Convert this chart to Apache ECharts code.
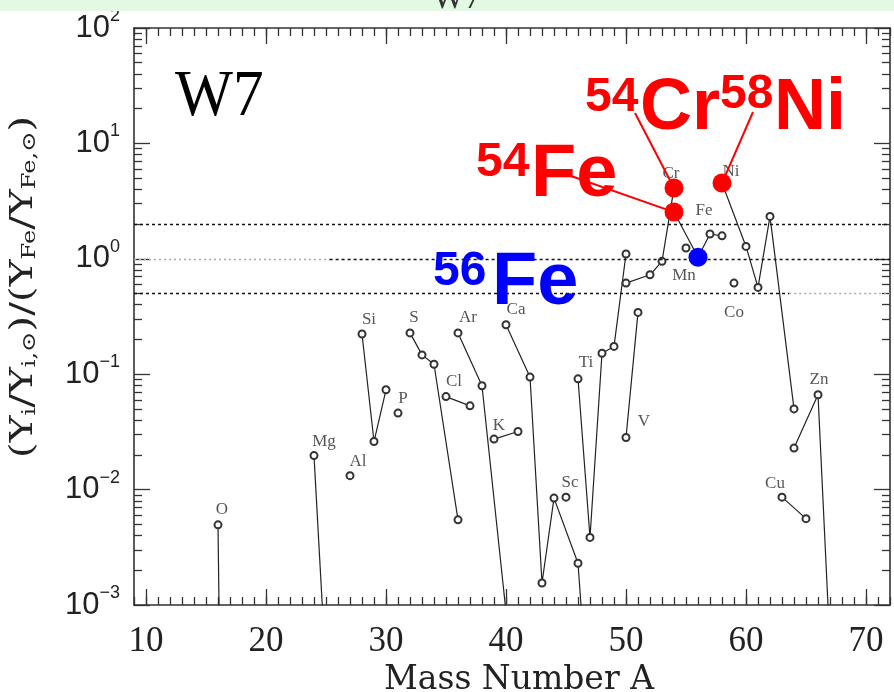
<!DOCTYPE html>
<html><head><meta charset="utf-8">
<script src="https://cdn.jsdelivr.net/npm/echarts@6/dist/echarts.min.js"></script>
<style>html,body{margin:0;padding:0;background:#fff}#c{width:894px;height:692px}</style>
</head><body><div id="c"></div>
<script>
// ---------------- data ----------------
const xMajorTicks = [10, 20, 30, 40, 50, 60, 70];
const xMinorTicks = [9,10,11,12,13,14,15,16,17,18,19,20,21,22,23,24,25,26,27,28,29,30,31,32,33,34,35,36,37,38,39,40,41,42,43,44,45,46,47,48,49,50,51,52,53,54,55,56,57,58,59,60,61,62,63,64,65,66,67,68,69,70,71,72];
const yMinorTicks = [0.002,0.003,0.004,0.005,0.006,0.007,0.008,0.009,
  0.02,0.03,0.04,0.05,0.06,0.07,0.08,0.09,
  0.2,0.3,0.4,0.5,0.6,0.7,0.8,0.9,
  2,3,4,5,6,7,8,9,
  20,30,40,50,60,70,80,90];
const refLevels = [2, 1, 0.5];

// [mass number A, (Y_i/Y_i,sun)/(Y_Fe/Y_Fe,sun)]
const isoO  = [[16, 4.95e-3], [17, 3e-11]];
const isoMg = [[24, 0.0197], [25, 2.6e-4]];
const isoAl = [[27, 0.0132]];
const isoSi = [[28, 0.223], [29, 0.0261], [30, 0.0733]];
const isoP  = [[31, 0.046]];
const isoS  = [[32, 0.228], [33, 0.147], [34, 0.122], [36, 5.47e-3]];
const isoCl = [[35, 0.064], [37, 0.0532]];
const isoAr = [[36, 0.228], [38, 0.0794], [40, 8.7e-4]];
const isoK  = [[39, 0.0274], [41, 0.0319]];
const isoCa = [[40, 0.268], [42, 0.0944], [43, 1.55e-3], [44, 8.44e-3], [46, 2.3e-3], [48, 2.9e-6]];
const isoSc = [[45, 8.6e-3]];
const isoTi = [[46, 0.0912], [47, 3.85e-3], [48, 0.152], [49, 0.174], [50, 1.1]];
const isoV  = [[50, 0.0283], [51, 0.343]];
const isoCr = [[50, 0.616], [52, 0.727], [53, 0.95], [54, 4.1]];
const isoMn = [[55, 1.24]];
const isoFe = [[54, 2.54], [56, 1.03], [57, 1.64], [58, 1.58]];
const isoCo = [[59, 0.616]];
const isoNi = [[58, 4.53], [60, 1.28], [61, 0.565], [62, 2.33], [64, 0.05]];
const isoCu = [[63, 8.6e-3], [65, 5.6e-3]];
const isoZn = [[64, 0.0229], [66, 0.0664], [67, 4.3e-4]];

// element label -> isotope (mass number) it sits next to
const labelRefs = [['O',16],['Mg',24],['Al',27],['Si',28],['P',31],['S',32],['Cl',35],['Ar',36],['K',39],['Ca',40],
  ['Sc',45],['Ti',46],['V',50],['Cr',54],['Mn',55],['Fe',54],['Co',59],['Ni',58],['Cu',63],['Zn',66]];

// highlighted isotopes: [element, mass number, superscript, symbol]
const redIsotopes = [['Cr', 54, '54', 'Cr'], ['Fe', 54, '54', 'Fe'], ['Ni', 58, '58', 'Ni']];
const blueIsotopes = [['Fe', 56, '56', 'Fe']];

// ---------------- layout / style ----------------
const elements = {O:isoO, Mg:isoMg, Al:isoAl, Si:isoSi, P:isoP, S:isoS, Cl:isoCl, Ar:isoAr, K:isoK, Ca:isoCa,
  Sc:isoSc, Ti:isoTi, V:isoV, Cr:isoCr, Mn:isoMn, Fe:isoFe, Co:isoCo, Ni:isoNi, Cu:isoCu, Zn:isoZn};
const labelOffset = {O:[4,-15], Mg:[10,-14], Al:[8,-14], Si:[7,-14], P:[5,-15], S:[4,-15], Cl:[8,-15], Ar:[10,-15],
  K:[5,-14], Ca:[10,-15], Sc:[4,-15], Ti:[8,-16], V:[18,-16], Cr:[-3,-15], Mn:[-2,28], Fe:[30,-2], Co:[0,29],
  Ni:[9,-12], Cu:[-7,-14], Zn:[1,-15]};
function find(el, A) { return elements[el].find(p => p[0] === A); }

const GRID = {left:134, top:28, right:4, bottom:87, outerBoundsMode:'none', containLabel:false};
const axisCol = '#333';

function xAx(pos, major) {
  return {
    type:'value', min:9, max:72, position:pos,
    axisLine:{show:major, onZero:false, lineStyle:{color:axisCol, width:1.6}},
    axisTick:{show:true, inside:true, length: major?16:8, customValues: major?xMajorTicks:xMinorTicks,
      lineStyle:{color:axisCol, width:1.3}},
    axisLabel:{show: major && pos==='bottom', customValues:xMajorTicks, fontFamily:'Liberation Serif', fontSize:35, color:'#222', margin:19},
    splitLine:{show:false}
  };
}
function yAx(pos, major) {
  const ax = {
    type:'log', logBase:10, min:0.001, max:100, position:pos,
    axisLine:{show:major, onZero:false, lineStyle:{color:axisCol, width:1.6}},
    axisTick:{show:true, inside:true, length: major?16:8, lineStyle:{color:axisCol, width:1.3}},
    axisLabel:{show: major && pos==='left', margin:14,
      formatter: v => { const e = Math.round(Math.log10(v)); return '{b|10}{s|' + (e < 0 ? '\u2212' + (-e) : e) + '}'; },
      rich:{ b:{fontFamily:'Liberation Sans', fontSize:31, color:'#222', lineHeight:42},
             s:{fontFamily:'Liberation Sans', fontSize:18, color:'#222', lineHeight:18, verticalAlign:'top'} } },
    splitLine:{show:false}
  };
  if (!major) ax.axisTick.customValues = yMinorTicks;
  return ax;
}

const series = [];
Object.keys(elements).forEach(k => {
  series.push({
    type:'line', name:k, data:elements[k], symbol:'emptyCircle', symbolSize:7, showAllSymbol:true,
    lineStyle:{color:'#222', width:1.2}, itemStyle:{color:'#333', borderWidth:1.3}, z:3, clip:true, silent:true
  });
});
series.push({
  type:'scatter', name:'labels', symbolSize:0, silent:true, z:4,
  data: labelRefs.map(r => ({value: find(r[0], r[1]), name:r[0],
    label:{show:true, position:'inside', offset:labelOffset[r[0]], formatter:r[0],
      fontFamily:'Liberation Serif', fontSize:17, color:'#2a2a2a'}}))
});
const grayDash = {type:[2,3], color:'#aaa', width:1.3};
series.push({
  type:'line', name:'ref', data:[], silent:true,
  markLine:{silent:true, symbol:['none','none'], label:{show:false},
    lineStyle:{type:[3,3], color:'#111', width:1.3},
    data: [
      [{coord:[9, refLevels[0]]}, {coord:[72, refLevels[0]]}],
      [{coord:[9, refLevels[1]], lineStyle:grayDash}, {coord:[25.3, refLevels[1]]}],
      [{coord:[25.3, refLevels[1]]}, {coord:[72, refLevels[1]]}],
      [{coord:[9, refLevels[2]]}, {coord:[63.6, refLevels[2]]}],
      [{coord:[63.6, refLevels[2]], lineStyle:grayDash}, {coord:[72, refLevels[2]]}]
    ]}
});
series.push({
  type:'scatter', name:'red', symbolSize:19, z:20, silent:true, itemStyle:{color:'#ff0000', opacity:1},
  data: redIsotopes.map(r => find(r[0], r[1]))
});
series.push({
  type:'scatter', name:'blue', symbolSize:19, z:20, silent:true, itemStyle:{color:'#0000ff', opacity:1},
  data: blueIsotopes.map(r => find(r[0], r[1]))
});

const chart = echarts.init(document.getElementById('c'));
chart.setOption({
  animation:false,
  grid:GRID,
  xAxis:[
    Object.assign(xAx('bottom', true), {name:'Mass Number A', nameLocation:'middle', nameGap:59,
      nameTextStyle:{fontFamily:'DejaVu Serif', fontSize:33, color:'#222', padding:[0,0,0,14]}}),
    xAx('bottom', false), xAx('top', true), xAx('top', false)
  ],
  yAxis:[ yAx('left', true), yAx('left', false), yAx('right', true), yAx('right', false) ],
  series: series
});

// annotations
const px = p => chart.convertToPixel({xAxisIndex:0, yAxisIndex:0}, p);
const pCr = px(find('Cr',54)), pFe = px(find('Fe',54)), pNi = px(find('Ni',58));
const big = (txt, x, y, size, col) => ({type:'text', x:x, y:y, z:100,
  style:{text:txt, fill:col, font:'bold ' + size + 'px "Liberation Sans"', align:'left', verticalAlign:'middle'}});
const red = '#ff0000', blue = '#0000ff';
chart.setOption({
  graphic:[
    {type:'rect', shape:{x:0, y:0, width:894, height:11}, style:{fill:'#e3f9e3'}, z:1},
    {type:'text', x:457, y:16, z:2, style:{text:'W7', fill:'#333', font:'34px "Liberation Serif"', align:'center', verticalAlign:'bottom'}},
    {type:'text', x:175, y:98, z:100, scaleX:0.93, style:{text:'W7', fill:'#000', font:'66px "Liberation Serif"', align:'left', verticalAlign:'middle'}},
    {type:'line', z:99, shape:{x1:635, y1:113, x2:pCr[0], y2:pCr[1]}, style:{stroke:red, lineWidth:2}},
    {type:'line', z:99, shape:{x1:571, y1:176, x2:pFe[0], y2:pFe[1]}, style:{stroke:red, lineWidth:2}},
    {type:'line', z:99, shape:{x1:753, y1:112, x2:pNi[0], y2:pNi[1]}, style:{stroke:red, lineWidth:2}},
    big(redIsotopes[1][2], 476, 163, 48, red), big(redIsotopes[1][3], 531, 176, 74, red),
    big(redIsotopes[0][2], 585, 98, 48, red), big(redIsotopes[0][3], 640, 109, 72, red),
    big(redIsotopes[2][2], 720, 95, 48, red), big(redIsotopes[2][3], 774, 109, 72, red),
    big(blueIsotopes[0][2], 433, 272, 48, blue), big(blueIsotopes[0][3], 492, 284, 74, blue),
    {type:'text', x:24, y:287, rotation:Math.PI/2, scaleX:1.27, z:100,
      style:{text:'(Y{s|i}/Y{s|i,\u2299})/(Y{s|Fe}/Y{s|Fe,\u2299})', align:'center', verticalAlign:'middle',
        fill:'#222', font:'32px "DejaVu Serif"',
        rich:{s:{font:'19px "DejaVu Serif"', fill:'#222', verticalAlign:'bottom', lineHeight:19}}}}
  ]
});
</script></body></html>
